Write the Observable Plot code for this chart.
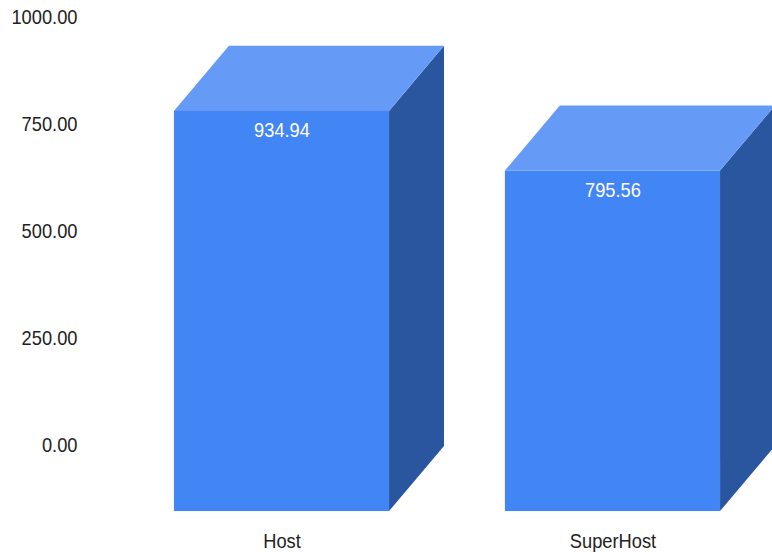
<!DOCTYPE html>
<html><head><meta charset="utf-8">
<script src="https://cdn.jsdelivr.net/npm/d3@7"></script>
<script src="https://cdn.jsdelivr.net/npm/@observablehq/plot@0.6"></script>
<style>html,body{margin:0;padding:0;background:#fff;overflow:hidden}svg{display:block}</style>
</head><body><div id="chart"></div>
<script>
const categories = ["Host", "SuperHost"];
const values = [934.94, 795.56];
const yTicks = [0, 250, 500, 750, 1000];
const halfWidth = 0.325, depthX = 0.166, depthY = 152;
const font = "'Liberation Sans',sans-serif";

const rows = categories.map((c, i) => ({c, i, v: values[i]}));
const sideFaces = rows.flatMap(d => [
  {i: d.i, x: d.i + halfWidth, y1: -depthY, y2: d.v - depthY},
  {i: d.i, x: d.i + halfWidth + depthX, y1: 0, y2: d.v}
]);
const topFaces = rows.flatMap(d => {
  const b = d.v - depthY, l = d.i - halfWidth, r = d.i + halfWidth;
  return [
    {i: d.i, x: l, y1: b, y2: b},
    {i: d.i, x: l + depthX, y1: b, y2: d.v},
    {i: d.i, x: r, y1: b, y2: d.v},
    {i: d.i, x: r + depthX, y1: d.v, y2: d.v}
  ];
});

const chart = Plot.plot({
  width: 772, height: 552,
  marginLeft: 78, marginRight: 0, marginTop: 0, marginBottom: 0,
  style: {background: "#fff", fontFamily: font},
  x: {type: "linear", domain: [-0.8505, 1.482], range: [0, 772], axis: null},
  y: {domain: [-247.66, 1042.06], range: [552, 0], axis: null},
  marks: [
    Plot.axisY(yTicks, {anchor: "left", tickSize: 0, tickPadding: 1, dy: -1, tickFormat: d3.format(".2f"), fontSize: 21, fill: "#222", label: null}),
    Plot.areaY(sideFaces, {x: "x", y1: "y1", y2: "y2", z: "i", fill: "#2a56a0"}),
    Plot.areaY(topFaces, {x: "x", y1: "y1", y2: "y2", z: "i", fill: "#659bf7"}),
    Plot.rect(rows, {x1: d => d.i - halfWidth, x2: d => d.i + halfWidth, y1: -depthY, y2: d => d.v - depthY, fill: "#4285f4"}),
    Plot.text(rows, {x: "i", y: d => d.v - depthY, dy: 19, text: d => d3.format(".2f")(d.v), fill: "#fff", fontSize: 21}),
    Plot.text(rows, {x: "i", y: -depthY, dy: 30, text: "c", fill: "#222", fontSize: 21})
  ]
});
document.getElementById("chart").append(chart);
// The reference's lettering is condensed: narrow each label to 87% of its natural width.
chart.querySelectorAll("text").forEach(t => {
  t.setAttribute("textLength", t.getComputedTextLength() * 0.87);
  t.setAttribute("lengthAdjust", "spacingAndGlyphs");
});
</script></body></html>
